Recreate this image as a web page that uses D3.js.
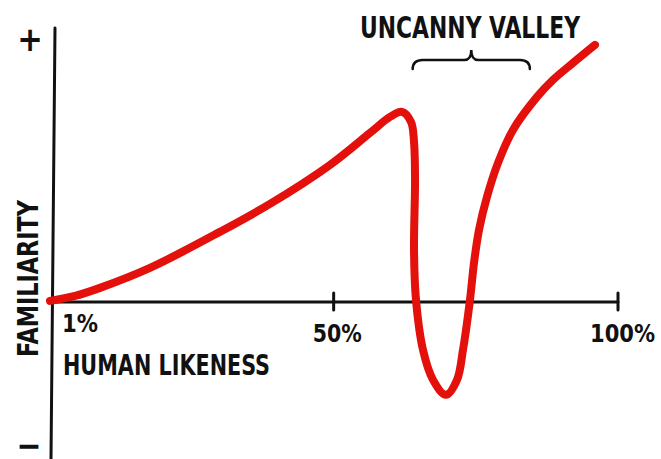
<!DOCTYPE html>
<html>
<head>
<meta charset="utf-8">
<script src="https://cdn.jsdelivr.net/npm/d3@7"></script>
<style>
  body { margin: 0; background: #fff; }
  text { font-family: "DejaVu Sans Condensed", "DejaVu Sans", sans-serif; font-weight: bold; fill: #111; }
</style>
</head>
<body>
<div class="chart"></div>
<script>
// human likeness (%) and familiarity
var likeness = [0.12, 4.52, 8.91, 17.7, 30.0, 38.8, 49.35, 56.39, 59.91, 62.02, 63.6, 64.13, 64.31, 64.13, 64.48,
  65.71, 67.47, 69.75, 71.69, 72.74, 73.97, 74.68, 75.56, 76.96, 78.9, 81.53, 85.76, 88.57, 92.09, 95.95];
var familiarity = [0.38, 2.29, 5.35, 12.98, 26.73, 37.42, 52.31, 64.53, 70.64, 72.55, 68.73, 61.09, 46.58, 19.85, 0.76,
  -18.33, -29.78, -35.51, -29.78, -18.33, 0.76, 14.89, 27.49, 40.09, 53.07, 65.67, 78.27, 84.77, 91.26, 98.13];

var xTicks = [1, 50, 100];
var xTickLabels = ["1%", "50%", "100%"];
var yTicks = [100, -55];
var yTickLabels = ["+", "\u2212"];
var valleyRange = [63.9, 84.5];

var svgWidth = 661;
var svgHeight = 459;

var svg = d3.select(".chart")
  .append("svg")
  .attr("width", svgWidth)
  .attr("height", svgHeight);

var x = d3.scaleLinear().domain([1, 100]).range([55, 618]);
var y = d3.scaleLinear().domain([-60, 100]).range([459, 40]);

// axes, drawn by hand-ish
svg.append("line")
  .attr("x1", x(1)).attr("y1", y(100) - 12)
  .attr("x2", x(1) - 4).attr("y2", y(-60))
  .attr("stroke", "#111").attr("stroke-width", 3).attr("stroke-linecap", "round");

svg.append("line")
  .attr("x1", x(0.5)).attr("y1", y(0))
  .attr("x2", x(100)).attr("y2", y(0))
  .attr("stroke", "#111").attr("stroke-width", 3).attr("stroke-linecap", "round");

// tick marks at 50% and 100%
svg.selectAll(".tick")
  .data(xTicks.slice(1))
  .enter()
  .append("line")
  .attr("class", "tick")
  .attr("x1", d => x(d)).attr("x2", d => x(d))
  .attr("y1", y(0) - 9).attr("y2", y(0) + 8)
  .attr("stroke", "#111").attr("stroke-width", 3).attr("stroke-linecap", "round");

// tick labels
var tickLabelW = [36, 49, 65];
svg.selectAll(".xlabel")
  .data(xTicks)
  .enter()
  .append("text")
  .attr("class", "xlabel")
  .attr("x", (d, i) => i == 0 ? x(d) + 7 : (i == 1 ? x(d) - 21 : x(d) - 28))
  .attr("y", (d, i) => i == 0 ? 332 : 342)
  .attr("font-size", 25)
  .attr("textLength", (d, i) => tickLabelW[i])
  .attr("lengthAdjust", "spacingAndGlyphs")
  .text((d, i) => xTickLabels[i]);

// + and - ends of the familiarity axis
svg.append("text")
  .attr("x", 30)
  .attr("y", y(yTicks[0]) + 11)
  .attr("text-anchor", "middle")
  .attr("font-size", 34)
  .text(yTickLabels[0]);

svg.append("text")
  .attr("x", 18)
  .attr("y", y(yTicks[1]) + 7)
  .attr("font-size", 20)
  .attr("textLength", 22)
  .attr("lengthAdjust", "spacingAndGlyphs")
  .attr("stroke", "#111")
  .attr("stroke-width", 1.6)
  .text(yTickLabels[1]);

// axis titles
svg.append("text")
  .attr("x", 63)
  .attr("y", 375)
  .attr("font-size", 28)
  .attr("textLength", 207)
  .attr("lengthAdjust", "spacingAndGlyphs")
  .text("HUMAN LIKENESS");

svg.append("text")
  .attr("transform", "translate(38, 357) rotate(-90)")
  .attr("font-size", 29)
  .attr("textLength", 157)
  .attr("lengthAdjust", "spacingAndGlyphs")
  .text("FAMILIARITY");

// the curve
var line = d3.line()
  .x(d => x(d[0]))
  .y(d => y(d[1]))
  .curve(d3.curveCatmullRom.alpha(0.5));

svg.append("path")
  .datum(d3.zip(likeness, familiarity))
  .attr("d", line)
  .attr("fill", "none")
  .attr("stroke", "#e3100c")
  .attr("stroke-width", 8)
  .attr("stroke-linecap", "round")
  .attr("stroke-linejoin", "round");

// brace + label for the valley
var bx0 = x(valleyRange[0]), bx1 = x(valleyRange[1]), bm = (bx0 + bx1) / 2;
var bTop = 50, bMid = 60, bEnd = 69;
svg.append("path")
  .attr("d", `M${bx0},${bEnd} Q${bx0},${bMid} ${bx0 + 10},${bMid} L${bm - 7},${bMid} Q${bm},${bMid} ${bm},${bTop}`
    + ` Q${bm},${bMid} ${bm + 7},${bMid} L${bx1 - 10},${bMid} Q${bx1},${bMid} ${bx1},${bEnd}`)
  .attr("fill", "none")
  .attr("stroke", "#111")
  .attr("stroke-width", 2.5)
  .attr("stroke-linecap", "round");

svg.append("text")
  .attr("x", 360)
  .attr("y", 38)
  .attr("font-size", 30)
  .attr("textLength", 220)
  .attr("lengthAdjust", "spacingAndGlyphs")
  .text("UNCANNY VALLEY");
</script>
</body>
</html>
